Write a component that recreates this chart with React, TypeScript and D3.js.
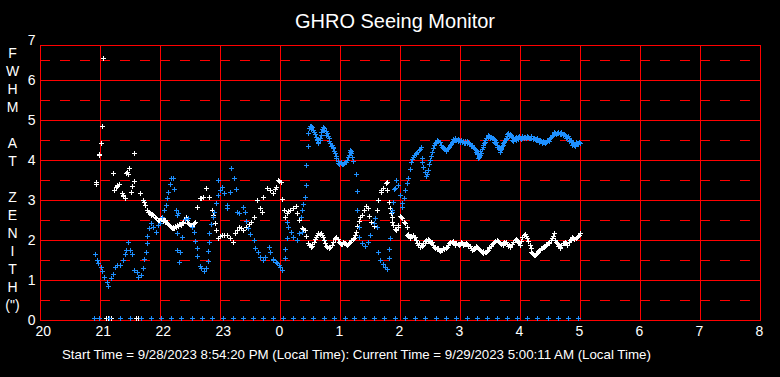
import React from "react";
import * as d3 from "d3";

// Hours since midnight of 9/28 (values > 24 are the next morning)
const xTickHours = [20, 21, 22, 23, 24, 25, 26, 27, 28, 29, 30, 31, 32];
const yTickValues = [0, 1, 2, 3, 4, 5, 6, 7];
const yHalfValues = [0.5, 1.5, 2.5, 3.5, 4.5, 5.5, 6.5];
const yAxisLetters = ["F", "W", "H", "M", "", "A", "T", "", "Z", "E", "N", "I", "T", "H", "(\")"];
const title = "GHRO Seeing Monitor";
const footer = "Start Time = 9/28/2023 8:54:20 PM (Local Time): Current Time = 9/29/2023 5:00:11 AM (Local Time)";

// Blue series [hour, FWHM]
const blueSeries: [number, number][] = [
  [20.92, 1.65], [20.95, 1.5], [20.97, 1.42], [21.01, 1.32], [21.04, 1.23], [21.07, 1.08], [21.11, 0.96], [21.14, 0.85],
  [21.19, 1.04], [21.22, 1.14], [21.25, 1.32], [21.28, 1.38], [21.33, 1.38], [21.38, 1.5], [21.42, 1.65], [21.44, 1.75],
  [21.47, 1.94], [21.5, 1.75], [21.54, 1.65], [21.57, 1.25], [21.61, 1.21], [21.64, 1.08], [21.68, 1.13], [21.71, 1.29],
  [21.73, 1.52], [21.76, 1.71], [21.78, 1.92], [21.79, 2.1], [21.82, 2.29], [21.85, 2.42], [21.89, 2.33], [21.93, 2.21],
  [21.97, 2.38], [22.0, 2.42], [22.04, 2.58], [22.07, 2.75], [22.1, 2.88], [22.12, 3.04], [22.14, 3.21], [22.16, 3.4],
  [22.18, 3.56], [22.21, 3.56], [22.24, 3.27], [22.26, 2.75], [22.28, 2.63], [22.3, 2.68], [22.28, 2.18], [22.37, 2.08],
  [22.29, 1.75], [22.33, 1.71], [22.32, 1.46], [22.42, 2.52], [22.47, 2.54], [22.53, 2.33], [22.57, 2.21], [22.58, 1.98],
  [22.61, 1.79], [22.62, 1.6], [22.66, 1.35], [22.69, 1.31], [22.73, 1.23], [22.77, 1.29], [22.81, 1.94], [22.8, 1.73],
  [22.8, 1.48], [22.82, 2.18], [22.85, 2.4], [22.88, 2.58], [22.9, 2.71], [22.93, 2.92], [22.96, 3.13], [22.97, 3.5],
  [23.0, 3.25], [23.03, 3.32], [23.07, 3.17], [23.11, 2.88], [23.11, 2.79], [23.16, 3.21], [23.19, 3.79], [23.23, 3.54],
  [23.27, 3.27], [23.29, 2.71], [23.32, 2.67], [23.38, 2.83], [23.42, 2.71], [23.44, 2.48], [23.47, 2.29], [23.5, 2.15],
  [23.56, 2.0], [23.58, 1.79], [23.64, 1.71], [23.67, 1.58], [23.71, 1.5], [23.75, 1.58], [23.81, 1.83], [23.83, 1.71],
  [23.88, 1.52], [23.89, 1.5], [23.94, 1.46], [23.95, 1.42], [23.99, 1.38], [24.0, 1.33], [24.03, 1.25], [24.08, 1.77],
  [24.08, 1.54], [24.11, 2.04], [24.11, 2.46], [24.14, 2.33], [24.19, 2.21], [24.22, 2.08], [24.28, 2.0], [24.31, 2.17],
  [24.36, 2.21], [24.35, 2.58], [24.36, 2.75], [24.38, 2.9], [24.41, 3.08], [24.43, 3.38], [24.44, 3.88], [24.46, 4.35],
  [24.47, 4.67], [24.5, 4.85], [24.52, 4.84], [24.54, 4.83], [24.57, 4.71], [24.6, 4.58], [24.62, 4.52], [24.64, 4.46],
  [24.67, 4.54], [24.69, 4.71], [24.71, 4.75], [24.73, 4.79], [24.76, 4.72], [24.78, 4.67], [24.81, 4.54], [24.83, 4.42],
  [24.86, 4.38], [24.89, 4.29], [24.92, 4.17], [24.94, 4.04], [24.97, 3.92], [25.01, 3.93], [25.03, 3.9], [25.06, 3.93],
  [25.1, 3.96], [25.14, 4.08], [25.17, 4.21], [25.19, 4.17], [25.22, 3.98], [25.26, 3.65], [25.28, 3.23], [25.29, 2.75],
  [25.31, 2.33], [25.32, 2.08], [25.36, 1.92], [25.42, 1.85], [25.46, 1.96], [25.5, 2.13], [25.56, 2.42], [25.58, 2.54],
  [25.61, 2.33], [25.64, 1.71], [25.67, 1.5], [25.71, 1.4], [25.75, 1.33], [25.78, 1.27], [25.81, 1.54], [25.82, 1.77],
  [25.83, 2.04], [25.86, 2.71], [25.87, 2.75], [25.89, 2.96], [25.9, 3.27], [25.92, 3.29], [25.94, 3.5], [25.97, 3.38],
  [26.0, 3.13], [26.03, 2.92], [26.03, 2.83], [26.06, 3.04], [26.08, 3.25], [26.11, 3.42], [26.14, 3.54], [26.16, 3.77],
  [26.18, 3.96], [26.22, 4.08], [26.27, 4.15], [26.31, 4.25], [26.35, 4.33], [26.36, 4.04], [26.39, 3.83], [26.43, 3.6],
  [26.47, 3.75], [26.5, 4.0], [26.53, 4.21], [26.56, 4.38], [26.6, 4.46], [26.64, 4.48], [26.68, 4.38], [26.72, 4.29],
  [26.75, 4.27], [26.78, 4.27], [26.81, 4.33], [26.83, 4.38], [26.86, 4.44], [26.89, 4.48], [26.92, 4.5], [26.94, 4.5],
  [26.97, 4.48], [27.0, 4.46], [27.03, 4.44], [27.06, 4.42], [27.09, 4.43], [27.12, 4.43], [27.15, 4.42], [27.17, 4.4],
  [27.2, 4.37], [27.22, 4.33], [27.25, 4.27], [27.27, 4.21], [27.29, 4.15], [27.31, 4.1], [27.33, 4.13], [27.35, 4.17],
  [27.38, 4.33], [27.4, 4.42], [27.42, 4.5], [27.44, 4.55], [27.47, 4.58], [27.5, 4.56], [27.53, 4.54], [27.56, 4.52],
  [27.58, 4.5], [27.6, 4.44], [27.62, 4.38], [27.65, 4.3], [27.67, 4.25], [27.69, 4.31], [27.71, 4.38], [27.73, 4.44],
  [27.75, 4.5], [27.77, 4.56], [27.79, 4.6], [27.81, 4.63], [27.83, 4.65], [27.86, 4.58], [27.88, 4.54], [27.9, 4.52],
  [27.93, 4.5], [27.95, 4.54], [27.97, 4.57], [28.0, 4.56], [28.03, 4.56], [28.06, 4.57], [28.08, 4.58], [28.11, 4.58],
  [28.14, 4.57], [28.17, 4.56], [28.19, 4.56], [28.22, 4.55], [28.25, 4.53], [28.27, 4.52], [28.3, 4.5], [28.32, 4.48],
  [28.35, 4.47], [28.38, 4.46], [28.4, 4.45], [28.43, 4.46], [28.47, 4.5], [28.5, 4.54], [28.53, 4.6], [28.56, 4.64],
  [28.58, 4.67], [28.61, 4.68], [28.64, 4.67], [28.67, 4.67], [28.69, 4.66], [28.72, 4.65], [28.75, 4.62], [28.78, 4.58],
  [28.81, 4.54], [28.83, 4.5], [28.86, 4.45], [28.88, 4.4], [28.9, 4.38], [28.92, 4.4], [28.95, 4.42], [28.97, 4.43],
  [29.0, 4.42],
];

// Blue readings where the band in the picture is thick
const blueBandExtra: [number, number][] = [
  [24.49, 4.8], [24.51, 4.78], [24.55, 4.76], [24.58, 4.65], [24.61, 4.5], [24.63, 4.42], [24.66, 4.5], [24.68, 4.62],
  [24.7, 4.77], [24.72, 4.82], [24.74, 4.74], [24.77, 4.62], [24.8, 4.6], [24.82, 4.48], [24.85, 4.35], [24.88, 4.33],
  [24.9, 4.22], [24.93, 4.1], [24.96, 3.98], [24.99, 3.9], [25.02, 3.96], [25.05, 3.9], [25.08, 3.95], [25.12, 4.0],
  [25.15, 4.12], [25.16, 4.25], [25.18, 4.23], [25.2, 4.08],
  [26.2, 4.02], [26.24, 4.12], [26.26, 4.18], [26.29, 4.2], [26.33, 4.28], [26.37, 3.95], [26.41, 3.7], [26.45, 3.65],
  [26.49, 3.9], [26.52, 4.1], [26.55, 4.3], [26.58, 4.42],
  [26.62, 4.5], [26.66, 4.44], [26.7, 4.33], [26.74, 4.3], [26.77, 4.22], [26.8, 4.3], [26.85, 4.4], [26.88, 4.53],
  [26.91, 4.55], [26.96, 4.53], [26.99, 4.5], [27.02, 4.5], [27.05, 4.47], [27.08, 4.48], [27.11, 4.47], [27.14, 4.45],
  [27.19, 4.35], [27.24, 4.29], [27.26, 4.25], [27.28, 4.17], [27.3, 4.06], [27.32, 4.08], [27.34, 4.22], [27.36, 4.27],
  [27.39, 4.38], [27.41, 4.46], [27.43, 4.56], [27.46, 4.62], [27.49, 4.6], [27.52, 4.58], [27.55, 4.55], [27.57, 4.46],
  [27.59, 4.42], [27.61, 4.33], [27.64, 4.33], [27.66, 4.2], [27.68, 4.27], [27.7, 4.35], [27.72, 4.42], [27.74, 4.46],
  [27.76, 4.53], [27.78, 4.64], [27.8, 4.67], [27.82, 4.6], [27.85, 4.62], [27.87, 4.5], [27.89, 4.48], [27.92, 4.54],
  [27.94, 4.58], [27.96, 4.52], [27.99, 4.6], [28.01, 4.53], [28.04, 4.6], [28.07, 4.54], [28.1, 4.55], [28.12, 4.6],
  [28.15, 4.54], [28.18, 4.59], [28.21, 4.52], [28.24, 4.56], [28.26, 4.49], [28.29, 4.54], [28.31, 4.45], [28.34, 4.5],
  [28.37, 4.43], [28.39, 4.48], [28.42, 4.43], [28.45, 4.49], [28.48, 4.47], [28.51, 4.58], [28.54, 4.62], [28.57, 4.7],
  [28.6, 4.65], [28.63, 4.71], [28.66, 4.64], [28.68, 4.7], [28.71, 4.62], [28.74, 4.66], [28.77, 4.55], [28.8, 4.6],
  [28.82, 4.47], [28.85, 4.5], [28.87, 4.37], [28.89, 4.43], [28.91, 4.36], [28.94, 4.44], [28.96, 4.4], [28.98, 4.46],
];

// White series [hour, FWHM]
const whiteSeries: [number, number][] = [
  [20.93, 3.45], [20.94, 3.4], [20.98, 4.13], [20.99, 4.15], [21.02, 4.42], [21.04, 4.84], [21.055, 6.54], [21.22, 3.67],
  [21.24, 3.24], [21.27, 3.33], [21.28, 3.36], [21.29, 3.37], [21.31, 3.4], [21.37, 3.17], [21.38, 3.13], [21.39, 3.1],
  [21.41, 3.04], [21.44, 3.67], [21.45, 3.7], [21.46, 3.66], [21.49, 3.8], [21.52, 3.19], [21.54, 3.34], [21.56, 3.47],
  [21.57, 4.17], [21.67, 3.17], [21.71, 3.0], [21.73, 2.94], [21.75, 2.88], [21.78, 2.75], [21.8, 2.71], [21.83, 2.67],
  [21.86, 2.65], [21.89, 2.63], [21.93, 2.55], [21.96, 2.5], [22.0, 2.52], [22.03, 2.52], [22.06, 2.5], [22.08, 2.5],
  [22.1, 2.46], [22.12, 2.43], [22.15, 2.38], [22.18, 2.33], [22.2, 2.3], [22.22, 2.29], [22.25, 2.35], [22.28, 2.38],
  [22.31, 2.4], [22.33, 2.4], [22.36, 2.42], [22.39, 2.46], [22.43, 2.58], [22.45, 2.5], [22.47, 2.43], [22.5, 2.38],
  [22.53, 2.35], [22.56, 2.42], [22.59, 2.46], [22.62, 2.82], [22.66, 3.04], [22.68, 3.06], [22.71, 3.08], [22.77, 3.29],
  [22.81, 3.08], [22.86, 2.75], [22.89, 2.63], [22.92, 2.42], [22.94, 2.25], [22.97, 2.04], [23.0, 2.1], [23.03, 2.13],
  [23.07, 2.13], [23.11, 2.13], [23.16, 2.05], [23.21, 1.96], [23.25, 2.17], [23.28, 2.25], [23.31, 2.33], [23.35, 2.29],
  [23.39, 2.25], [23.44, 2.33], [23.48, 2.4], [23.51, 2.46], [23.56, 2.58], [23.61, 3.0], [23.67, 2.79], [23.7, 2.71],
  [23.72, 3.08], [23.78, 3.29], [23.83, 3.25], [23.89, 3.18], [23.92, 3.27], [23.93, 3.32], [23.96, 3.5], [23.98, 3.48],
  [24.01, 3.46], [24.04, 3.02], [24.07, 2.75], [24.08, 2.57], [24.11, 2.67], [24.14, 2.72], [24.17, 2.75], [24.22, 2.79],
  [24.26, 2.85], [24.29, 2.67], [24.32, 2.5], [24.36, 2.29], [24.39, 2.27], [24.42, 2.25], [24.44, 2.1], [24.47, 1.92],
  [24.49, 1.87], [24.51, 1.83], [24.54, 1.9], [24.56, 1.96], [24.6, 2.08], [24.62, 2.13], [24.64, 2.17], [24.68, 2.18],
  [24.71, 2.07], [24.73, 2.0], [24.75, 1.92], [24.79, 1.82], [24.82, 1.83], [24.84, 1.83], [24.89, 1.96], [24.91, 2.02],
  [24.94, 2.07], [24.98, 1.96], [25.0, 1.92], [25.03, 1.9], [25.06, 1.92], [25.08, 1.93], [25.12, 1.88], [25.15, 1.92],
  [25.17, 1.96], [25.21, 2.02], [25.25, 2.13], [25.27, 2.21], [25.29, 2.35], [25.31, 2.48], [25.33, 2.57], [25.36, 2.63],
  [25.4, 2.75], [25.43, 2.85], [25.46, 2.79], [25.49, 2.6], [25.51, 2.46], [25.56, 2.35], [25.58, 2.54], [25.61, 2.75],
  [25.64, 3.0], [25.68, 3.21], [25.69, 3.25], [25.72, 3.29], [25.77, 3.43], [25.78, 3.46], [25.79, 3.25], [25.81, 2.96],
  [25.83, 2.79], [25.85, 2.67], [25.86, 2.58], [25.87, 2.46], [25.89, 2.38], [25.92, 2.27], [25.93, 2.25], [25.96, 2.38],
  [25.97, 2.33], [26.0, 2.6], [26.01, 2.58], [26.03, 2.54], [26.06, 2.46], [26.08, 2.42], [26.11, 2.32], [26.12, 2.13],
  [26.13, 2.15], [26.16, 2.04], [26.17, 2.08], [26.21, 2.13], [26.25, 2.07], [26.28, 1.92], [26.31, 1.93], [26.33, 1.83],
  [26.36, 1.85], [26.39, 1.92], [26.42, 1.93], [26.44, 2.0], [26.47, 2.02], [26.5, 1.96], [26.53, 1.96], [26.56, 1.83],
  [26.57, 1.82], [26.61, 1.79], [26.62, 1.77], [26.65, 1.76], [26.68, 1.75], [26.73, 1.77], [26.78, 1.83], [26.82, 1.93],
  [26.86, 1.96], [26.89, 1.93], [26.92, 1.9], [26.97, 1.9], [27.0, 1.91], [27.03, 1.92], [27.06, 1.9], [27.08, 1.9],
  [27.11, 1.89], [27.14, 1.88], [27.18, 1.79], [27.21, 1.78], [27.23, 1.77], [27.28, 1.83], [27.3, 1.8], [27.33, 1.75],
  [27.36, 1.71], [27.39, 1.68], [27.43, 1.71], [27.46, 1.75], [27.49, 1.79], [27.53, 1.9], [27.57, 1.96], [27.61, 2.0],
  [27.65, 1.96], [27.69, 1.9], [27.72, 1.92], [27.75, 1.93], [27.78, 1.9], [27.81, 1.88], [27.84, 1.83], [27.89, 1.96],
  [27.93, 2.02], [27.97, 1.96], [28.0, 1.88], [28.04, 2.08], [28.08, 2.15], [28.11, 2.04], [28.16, 1.88], [28.19, 1.71],
  [28.21, 1.66], [28.23, 1.63], [28.26, 1.65], [28.28, 1.67], [28.32, 1.75], [28.35, 1.79], [28.38, 1.83], [28.41, 1.86],
  [28.43, 1.9], [28.46, 1.93], [28.49, 1.96], [28.53, 2.04], [28.56, 2.17], [28.58, 2.0], [28.61, 1.92], [28.64, 1.85],
  [28.67, 1.79], [28.71, 1.92], [28.75, 1.96], [28.79, 1.88], [28.83, 2.0], [28.86, 2.08], [28.9, 2.02], [28.95, 2.07],
  [28.99, 2.13], [29.0, 2.17],
];

// White readings where the band in the picture is thick
const whiteBandExtra: [number, number][] = [
  [21.81, 2.69], [21.85, 2.62], [21.91, 2.57], [21.98, 2.48], [22.02, 2.55], [22.05, 2.47], [22.09, 2.45], [22.14, 2.4],
  [22.17, 2.36], [22.21, 2.33], [22.24, 2.3], [22.27, 2.33], [22.3, 2.36], [22.35, 2.37], [22.38, 2.42], [22.41, 2.52],
  [22.44, 2.54], [22.49, 2.4], [22.52, 2.38], [22.55, 2.4],
  [24.53, 1.85], [24.58, 2.02], [24.66, 2.15], [24.7, 2.12], [24.77, 1.86], [24.81, 1.8], [24.86, 1.88], [24.92, 2.05],
  [24.96, 2.02], [25.01, 1.9], [25.05, 1.95], [25.1, 1.9], [25.14, 1.9], [25.19, 1.99], [25.23, 2.05],
  [26.14, 2.1], [26.19, 2.1], [26.23, 2.08], [26.27, 2.0], [26.3, 1.88], [26.35, 1.88], [26.38, 1.88], [26.41, 1.97],
  [26.46, 1.98], [26.49, 2.0], [26.52, 1.92], [26.55, 1.88], [26.59, 1.8], [26.64, 1.8], [26.67, 1.72], [26.7, 1.76],
  [26.72, 1.8], [26.76, 1.8], [26.8, 1.88], [26.84, 1.95], [26.88, 1.97], [26.91, 1.88], [26.94, 1.93], [26.99, 1.88],
  [27.02, 1.95], [27.05, 1.87], [27.1, 1.92], [27.13, 1.86], [27.16, 1.84], [27.2, 1.76], [27.25, 1.8], [27.27, 1.86],
  [27.32, 1.78], [27.35, 1.72], [27.38, 1.72], [27.41, 1.7], [27.45, 1.72], [27.48, 1.82], [27.51, 1.84], [27.55, 1.93],
  [27.59, 1.98], [27.63, 1.98], [27.67, 1.93], [27.71, 1.88], [27.74, 1.96], [27.77, 1.95], [27.8, 1.86], [27.83, 1.86],
  [27.86, 1.9], [27.91, 2.0], [27.95, 2.0], [27.99, 1.92], [28.02, 1.98], [28.06, 2.12], [28.1, 2.1], [28.13, 1.97],
  [28.18, 1.8], [28.2, 1.68], [28.25, 1.62], [28.3, 1.72], [28.34, 1.76], [28.37, 1.8], [28.4, 1.82], [28.45, 1.9],
  [28.48, 1.93], [28.51, 2.0], [28.55, 2.1], [28.6, 1.95], [28.63, 1.9], [28.66, 1.82], [28.69, 1.88], [28.73, 1.93],
  [28.77, 1.92], [28.81, 1.95], [28.85, 2.03], [28.88, 2.05], [28.93, 2.05], [28.97, 2.1],
];

// Readings on the zero row
const blueZeroTimes = [
  20.905, 20.988, 21.155, 21.333, 21.5, 21.683, 21.85, 22.017, 22.183, 22.35, 22.528, 22.695, 22.872, 23.045, 23.212,
  23.378, 23.545, 23.722, 23.888, 24.055, 24.222, 24.388, 24.555, 24.738, 24.905, 25.083, 25.238, 25.405, 25.572,
  25.738, 25.917, 26.083, 26.25, 26.417, 26.6, 26.767, 26.933, 27.112, 27.278, 27.445, 27.612, 27.788, 27.955, 28.122,
  28.288, 28.462, 28.638, 28.805, 28.972,
];
const whiteZeroTimes = [21.108, 21.125, 21.142, 21.158, 21.175, 21.608, 21.625];
const zeroRowValue = 0.04;

const RED = "#ff0000";
const BLUE = "#1e90ff";
const WHITE = "#ffffff";
const FONT = "'Liberation Sans', Arial, sans-serif";

export default function App() {
  const W = 780;
  const H = 377;
  const x = d3.scaleLinear().domain([20, 32]).range([40, 760]);
  const y = d3.scaleLinear().domain([0, 7]).range([320, 40]);
  const frameTop = 45;
  const px = (v: number) => Math.round(v) + 0.5;
  const plus = "M-2.5,0H2.5M0,-2.5V2.5";

  const label = (h: number) => String(h % 24);
  const white = whiteSeries.concat(whiteBandExtra);
  const blue = blueSeries.concat(blueBandExtra);

  return (
    <svg
      width={W}
      height={H}
      style={{ position: "fixed", left: 0, top: 0, display: "block", background: "#000" }}
      fontFamily={FONT}
    >
      <rect x={0} y={0} width={W} height={H} fill="#000" />
      <text x={395} y={28} fill={WHITE} fontSize={20} textAnchor="middle">
        {title}
      </text>

      {/* grid */}
      <g shapeRendering="crispEdges" stroke={RED} strokeWidth={1}>
        {yHalfValues.map((v) => (
          <line key={"h" + v} x1={x(20)} x2={x(32)} y1={px(y(v))} y2={px(y(v))} strokeDasharray="10 10" />
        ))}
        {yTickValues
          .filter((v) => v > 0 && v < 7)
          .map((v) => (
            <line key={"s" + v} x1={x(20)} x2={x(32) + 1} y1={px(y(v))} y2={px(y(v))} />
          ))}
        {xTickHours.map((h) => (
          <line key={"v" + h} x1={px(x(h))} x2={px(x(h))} y1={frameTop} y2={y(0) + 1} />
        ))}
        <line x1={x(20)} x2={x(32) + 1} y1={frameTop + 0.5} y2={frameTop + 0.5} />
        <line x1={x(20)} x2={x(32) + 1} y1={px(y(0))} y2={px(y(0))} />
      </g>

      {/* y tick labels */}
      {yTickValues.map((v) => (
        <text key={"yl" + v} x={35.5} y={y(v)} dy="0.36em" fill={WHITE} fontSize={14} textAnchor="end">
          {v}
        </text>
      ))}
      {/* x tick labels */}
      {xTickHours.map((h) => (
        <text key={"xl" + h} x={x(h) - 4.5} y={336} fill={WHITE} fontSize={14} textAnchor="start">
          {label(h)}
        </text>
      ))}

      {/* y axis title, stacked letters */}
      {yAxisLetters.map((c, i) => (
        <text key={"ya" + i} x={12.5} y={53 + i * 18} dy="0.36em" fill={WHITE} fontSize={14} textAnchor="middle">
          {c}
        </text>
      ))}

      {/* data */}
      <g stroke={WHITE} strokeWidth={1} fill="none" shapeRendering="crispEdges">
        {white.map(([t, v], i) => (
          <path key={"w" + i} d={plus} transform={`translate(${px(x(t))},${px(y(v))})`} />
        ))}
        {whiteZeroTimes.map((t, i) => (
          <path key={"wz" + i} d={plus} transform={`translate(${px(x(t))},${px(y(zeroRowValue))})`} />
        ))}
      </g>
      <g stroke={BLUE} strokeWidth={1} fill="none" shapeRendering="crispEdges">
        {blue.map(([t, v], i) => (
          <path key={"b" + i} d={plus} transform={`translate(${px(x(t))},${px(y(v))})`} />
        ))}
        {blueZeroTimes.map((t, i) => (
          <path key={"bz" + i} d={plus} transform={`translate(${px(x(t))},${px(y(zeroRowValue))})`} />
        ))}
      </g>

      <text x={62} y={359} fill={WHITE} fontSize={13.3} textAnchor="start">
        {footer}
      </text>
    </svg>
  );
}
